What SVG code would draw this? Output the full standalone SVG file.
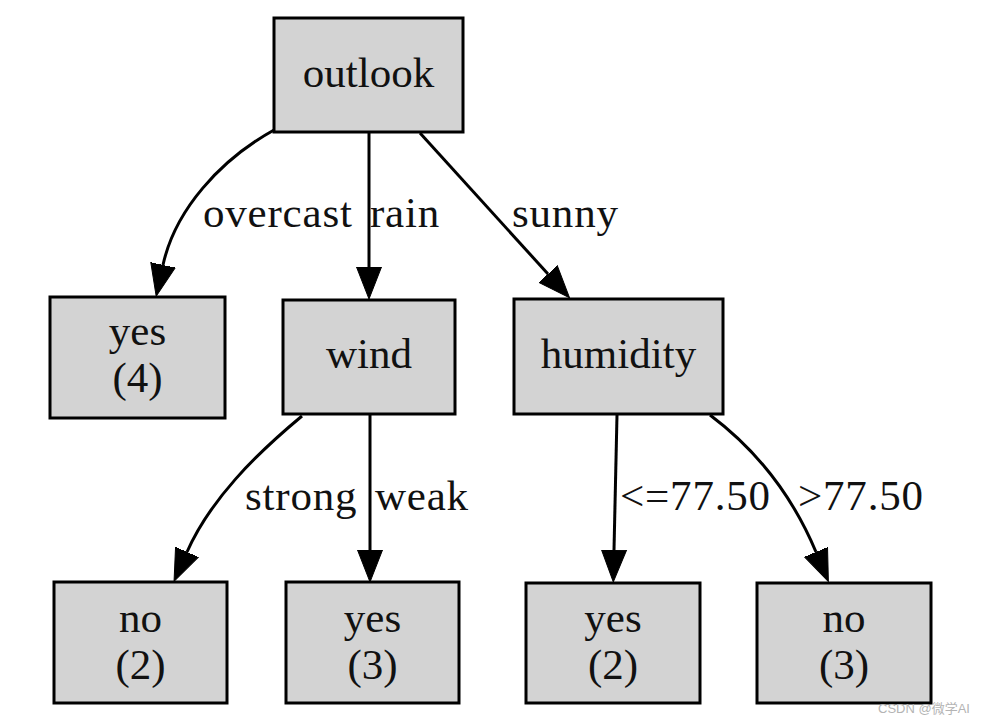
<svg xmlns="http://www.w3.org/2000/svg" width="982" height="724" viewBox="0 0 982 724">
<style>
.box{fill:#d3d3d3;stroke:#000;stroke-width:3}
.t{font-family:"Liberation Serif","Times New Roman",serif;font-size:43px;fill:#111}
.l{letter-spacing:0.8px}
.c{text-anchor:middle}
.e{fill:none;stroke:#000;stroke-width:3}
.wm{font-family:"Liberation Sans","Noto Sans CJK SC",sans-serif;font-size:13px;fill:#b4b4b4}
</style>
<defs>
<marker id="arr" markerUnits="userSpaceOnUse" markerWidth="36" markerHeight="28" refX="0" refY="13" orient="auto" viewBox="0 0 36 26">
<polygon points="0,0.5 32,13 0,25.5" fill="#000" stroke="#000" stroke-width="1"/>
</marker>
</defs>
<rect width="982" height="724" fill="#fff"/>
<g id="connectors">
<path class="e" d="M274,130 C220,160 175,210 163,265" marker-end="url(#arr)"/>
<path class="e" d="M369,133 L369,267" marker-end="url(#arr)"/>
<path class="e" d="M420,133 L548,274" marker-end="url(#arr)"/>
<path class="e" d="M302,416 C255,455 210,500 187,552" marker-end="url(#arr)"/>
<path class="e" d="M370,415 L370,550" marker-end="url(#arr)"/>
<path class="e" d="M617,415 L614,550" marker-end="url(#arr)"/>
<path class="e" d="M710,415 C750,445 790,490 816,552" marker-end="url(#arr)"/>
<text class="t l" x="203" y="227">overcast</text>
<text class="t l" x="370" y="227">rain</text>
<text class="t l" x="512" y="227">sunny</text>
<text class="t l" x="245" y="510">strong</text>
<text class="t l" x="375" y="510">weak</text>
<text class="t l" x="620" y="510">&lt;=77.50</text>
<text class="t l" x="798" y="510">&gt;77.50</text>
</g>
<g id="outlook">
<rect class="box" x="274" y="18" width="189" height="114"/>
<text class="t c" x="368.5" y="87">outlook</text>
</g>
<g id="yes4">
<rect class="box" x="50" y="297" width="175" height="121"/>
<text class="t c" x="137.5" y="345">yes</text>
<text class="t c" x="137.5" y="392">(4)</text>
</g>
<g id="wind">
<rect class="box" x="283" y="300" width="172" height="114"/>
<text class="t c" x="369" y="368">wind</text>
</g>
<g id="humidity">
<rect class="box" x="514" y="299" width="209" height="115"/>
<text class="t c" x="618.5" y="368">humidity</text>
</g>
<g id="no2">
<rect class="box" x="54" y="582" width="173" height="121"/>
<text class="t c" x="140.5" y="632">no</text>
<text class="t c" x="140.5" y="679">(2)</text>
</g>
<g id="yes3">
<rect class="box" x="286" y="582" width="173" height="121"/>
<text class="t c" x="372.5" y="632">yes</text>
<text class="t c" x="372.5" y="679">(3)</text>
</g>
<g id="yes2">
<rect class="box" x="526" y="583" width="174" height="120"/>
<text class="t c" x="613" y="632">yes</text>
<text class="t c" x="613" y="679">(2)</text>
</g>
<g id="no3">
<rect class="box" x="757" y="583" width="174" height="120"/>
<text class="t c" x="844" y="632">no</text>
<text class="t c" x="844" y="679">(3)</text>
</g>
<text class="wm" x="878" y="713">CSDN @微学AI</text>
</svg>
